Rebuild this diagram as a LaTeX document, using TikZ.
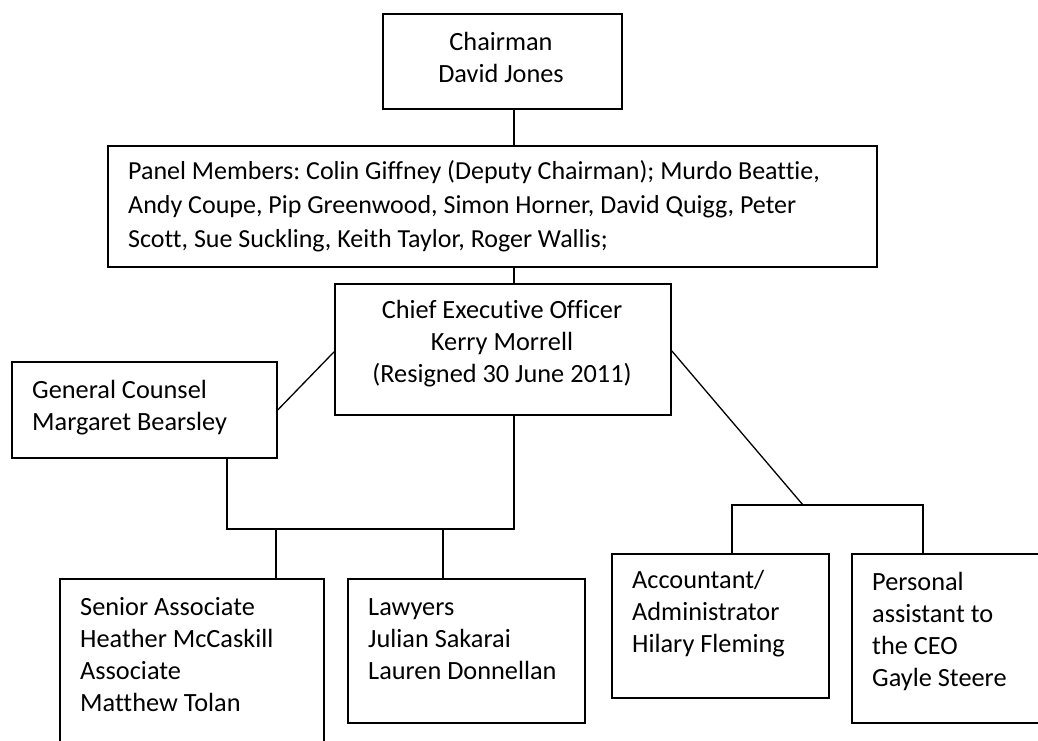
\documentclass[tikz,border=0pt]{standalone}
\usepackage{fontspec}
\setmainfont{Carlito}[Ligatures=NoCommon]
\frenchspacing
\newcommand\mlines[2]{\begin{tabular}[t]{@{}#1@{}}#2\end{tabular}}
\tikzset{
  box/.style={draw, line width=1.8pt, inner sep=0pt, anchor=north west},
  txt/.style={inner sep=0pt, font=\fontsize{26.3}{32}\selectfont},
  conn/.style={line width=1.3pt}
}
\begin{document}
\begin{tikzpicture}[x=1pt,y=-1pt]
\useasboundingbox (0,0) rectangle (1038,740);
\clip (0,0) rectangle (1038,740);
\fill[white] (0,0) rectangle (1038,740);
% boxes
\node[box, minimum width=239pt, minimum height=95pt] (chair) at (382,13) {};
\node[box, minimum width=769pt, minimum height=121pt] (panel) at (107,145) {};
\node[box, minimum width=336pt, minimum height=131pt] (ceo) at (334,283) {};
\node[box, minimum width=265pt, minimum height=96pt] (gc) at (11,361) {};
\node[box, minimum width=264pt, minimum height=170pt] (senior) at (59,578) {};
\node[box, minimum width=237pt, minimum height=144pt] (lawyers) at (347,578) {};
\node[box, minimum width=217pt, minimum height=144pt] (acc) at (611,553) {};
\node[box, minimum width=200pt, minimum height=169pt] (pa) at (851,553) {};
% texts
\node[txt, anchor=base] (tchair) at (501,50) {\mlines{c}{Chairman\\David Jones}};
\node[txt, anchor=base west, font=\fontsize{26}{34}\selectfont] (tpanel) at (128,179) {\mlines{l}{Panel Members: Colin Giffney (Deputy Chairman); Murdo Beattie,\\Andy Coupe, Pip Greenwood, Simon Horner, David Quigg, Peter\\Scott, Sue Suckling, Keith Taylor, Roger Wallis;}};
\node[txt, anchor=base] (tceo) at (502,318) {\mlines{c}{Chief Executive Officer\\Kerry Morrell\\(Resigned 30 June 2011)}};
\node[txt, anchor=base west] (tgc) at (32,398) {\mlines{l}{General Counsel\\Margaret Bearsley}};
\node[txt, anchor=base west] (tsenior) at (80,615) {\mlines{l}{Senior Associate\\Heather McCaskill\\Associate\\Matthew Tolan}};
\node[txt, anchor=base west] (tlawyers) at (368,615) {\mlines{l}{Lawyers\\Julian Sakarai\\Lauren Donnellan}};
\node[txt, anchor=base west] (tacc) at (632,588) {\mlines{l}{Accountant/\\Administrator\\Hilary Fleming}};
\node[txt, anchor=base west] (tpa) at (872,590) {\mlines{l}{Personal\\assistant to\\the CEO\\Gayle Steere}};
% junctions
\coordinate (jm) at (514,529);
\coordinate (jl) at (227,529);
\coordinate (b1) at (276,529);
\coordinate (b2) at (443,529);
\coordinate (jr) at (803,505);
\coordinate (bl) at (732,505);
\coordinate (br) at (923,505);
% connectors
\draw[conn] (chair.south -| jm) -- (panel.north -| jm);
\draw[conn] (panel.south -| jm) -- (ceo.north -| jm);
\draw[conn] (gc.east) -- ([yshift=-2.5pt]ceo.west);
\draw[conn] (ceo.south -| jm) -- (jm) -- (jl) -- (gc.south -| jl);
\draw[conn] (b1) -- (senior.north -| b1);
\draw[conn] (b2) -- (lawyers.north -| b2);
\draw[conn] ([yshift=-1.5pt]ceo.east) -- (jr);
\draw[conn] (acc.north -| bl) -- (bl) -- (br) -- (pa.north -| br);
\end{tikzpicture}
\end{document}
